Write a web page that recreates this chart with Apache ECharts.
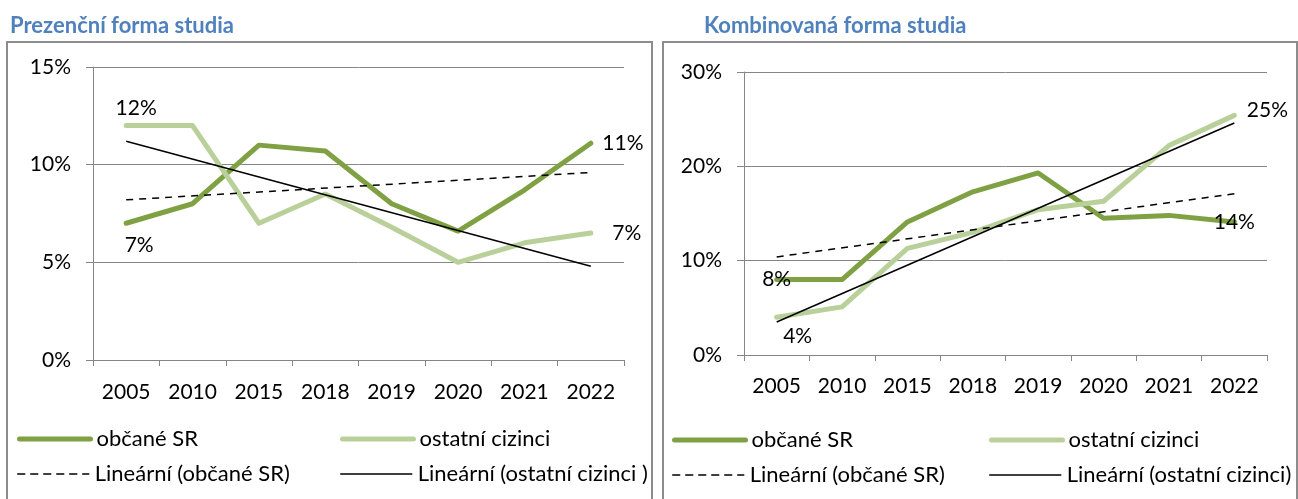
<!DOCTYPE html>
<html>
<head>
<meta charset="utf-8">
<script src="https://cdn.jsdelivr.net/npm/echarts@6/dist/echarts.min.js"></script>
<style>
  html, body { margin: 0; padding: 0; background: #fff; }
  #chart { width: 1298px; height: 499px; }
</style>
</head>
<body>
<div id="chart"></div>
<script>
// kategorie (roky)
var years = ['2005', '2010', '2015', '2018', '2019', '2020', '2021', '2022'];

// Prezenční forma studia (%)
var prezObcane = [7.0, 8.0, 11.0, 10.7, 8.0, 6.6, 8.7, 11.1];
var prezOstatni = [12.0, 12.0, 7.0, 8.5, 6.8, 5.0, 6.0, 6.5];
// lineární trend - jen koncové body
var prezTrendObcane = [8.2, null, null, null, null, null, null, 9.6];
var prezTrendOstatni = [11.2, null, null, null, null, null, null, 4.8];
var prezTicks = [0, 5, 10, 15];

// Kombinovaná forma studia (%)
var kombObcane = [8.0, 8.0, 14.1, 17.3, 19.3, 14.5, 14.8, 14.1];
var kombOstatni = [4.0, 5.1, 11.3, 13.0, 15.4, 16.3, 22.2, 25.4];
var kombTrendObcane = [10.4, null, null, null, null, null, null, 17.1];
var kombTrendOstatni = [3.5, null, null, null, null, null, null, 24.6];
var kombTicks = [0, 10, 20, 30];

var FONT = 'Lato';
var DARK = '#7FA144';
var LIGHT = '#B9D09A';
var GRAY = '#868686';

// popisky jen u vybraných bodů (bod s popiskem dostane malý symbol, jinak se popisek nevykreslí)
function withLabels(values, color, spec) {
  return values.map(function (v, i) {
    if (!spec[i]) return v;
    return {
      value: v,
      symbol: 'circle',
      symbolSize: 3,
      itemStyle: { color: color },
      label: Object.assign({
        show: true,
        color: '#000',
        fontFamily: FONT,
        fontSize: 21,
        formatter: function (p) { return Math.round(p.value) + '%'; }
      }, spec[i])
    };
  });
}

function yAxisFor(idx, ticks) {
  return {
    type: 'value',
    gridIndex: idx,
    min: ticks[0],
    max: ticks[ticks.length - 1],
    interval: ticks[1] - ticks[0],
    axisLine: { show: true, lineStyle: { color: GRAY, width: 1 } },
    axisTick: { show: true, length: 7, lineStyle: { color: GRAY } },
    splitLine: { show: true, lineStyle: { color: GRAY, width: 1 } },
    axisLabel: { margin: 22, color: '#000', fontFamily: FONT, fontSize: 21, formatter: '{value}%' }
  };
}

function xAxisFor(idx, margin) {
  return {
    type: 'category',
    gridIndex: idx,
    data: years,
    boundaryGap: true,
    axisLine: { show: true, lineStyle: { color: GRAY, width: 1 } },
    axisTick: { show: true, length: 6, lineStyle: { color: GRAY } },
    axisLabel: { margin: margin, interval: 0, color: '#000', fontFamily: FONT, fontSize: 21 }
  };
}

function dataLine(name, idx, data, color) {
  return {
    name: name, type: 'line', xAxisIndex: idx, yAxisIndex: idx,
    data: data, symbol: 'none', z: 2,
    emphasis: { disabled: true },
    lineStyle: { color: color, width: 5, cap: 'round', join: 'round' },
    itemStyle: { color: color }
  };
}

function trendLine(name, idx, data, dashed) {
  return {
    name: name, type: 'line', xAxisIndex: idx, yAxisIndex: idx,
    data: data, symbol: 'none', connectNulls: true, z: 3,
    emphasis: { disabled: true },
    lineStyle: { color: '#000', width: 1.5, type: dashed ? [7, 6] : 'solid' },
    itemStyle: { color: '#000' }
  };
}

// legenda: každá položka zvlášť, aby seděly sloupce jako v Excelu
function legendItem(name, left, top, lineWidth) {
  return {
    data: [name], left: left, top: top, padding: 0,
    itemWidth: 71, itemHeight: 14, itemGap: 0,
    selectedMode: false,
    lineStyle: { width: lineWidth, cap: 'round' },
    itemStyle: { opacity: 0 },   // bez kolečka uprostřed čáry
    textStyle: { color: '#000', fontFamily: FONT, fontSize: 22, padding: [0, 0, 0, 1] }
  };
}

var myChart = echarts.init(document.getElementById('chart'));

var option = {
  animation: false,
  title: [
    { text: 'Prezenční forma studia', left: 10, top: 15, padding: 0,
      textStyle: { color: '#4F81BD', fontFamily: FONT, fontWeight: 'bold', fontSize: 22 } },
    { text: 'Kombinovaná forma studia', left: 704, top: 15, padding: 0,
      textStyle: { color: '#4F81BD', fontFamily: FONT, fontWeight: 'bold', fontSize: 22 } }
  ],
  graphic: [
    { type: 'rect', shape: { x: 7, y: 42, width: 645, height: 480 },
      style: { fill: 'none', stroke: '#8C8C8C', lineWidth: 2 } },
    { type: 'rect', shape: { x: 663, y: 42, width: 634, height: 480 },
      style: { fill: 'none', stroke: '#8C8C8C', lineWidth: 2 } }
  ],
  grid: [
    { left: 93, top: 67, width: 531, height: 293 },
    { left: 744, top: 72, width: 523, height: 283 }
  ],
  legend: [
    legendItem('občané SR', 17, 428, 5),
    legendItem('ostatní cizinci', 340, 428, 5),
    legendItem('Lineární (občané SR)', 17, 463, 1.5),
    legendItem('Lineární (ostatní cizinci )', 340, 463, 1.5),
    legendItem('občané SR', 672, 429, 5),
    legendItem('ostatní cizinci', 989, 429, 5),
    legendItem('Lineární (občané SR)', 672, 464, 1.5),
    legendItem('Lineární (ostatní cizinci)', 989, 464, 1.5)
  ],
  xAxis: [xAxisFor(0, 22), xAxisFor(1, 21)],
  yAxis: [yAxisFor(0, prezTicks), yAxisFor(1, kombTicks)],
  series: [
    dataLine('občané SR', 0, withLabels(prezObcane, DARK, {
      0: { position: 'bottom', distance: 10, offset: [13, 0] },
      7: { position: 'right', distance: 10 }
    }), DARK),
    dataLine('ostatní cizinci', 0, withLabels(prezOstatni, LIGHT, {
      0: { position: 'top', distance: 5, offset: [10, 0] },
      7: { position: 'right', distance: 20 }
    }), LIGHT),
    trendLine('Lineární (občané SR)', 0, prezTrendObcane, true),
    trendLine('Lineární (ostatní cizinci )', 0, prezTrendOstatni, false),

    dataLine('občané SR', 1, withLabels(kombObcane, DARK, {
      0: { position: 'inside' },
      7: { position: 'inside' }
    }), DARK),
    dataLine('ostatní cizinci', 1, withLabels(kombOstatni, LIGHT, {
      0: { position: 'bottom', distance: 7, offset: [21, 0] },
      7: { position: 'right', distance: 11, offset: [0, -5] }
    }), LIGHT),
    trendLine('Lineární (občané SR)', 1, kombTrendObcane, true),
    trendLine('Lineární (ostatní cizinci)', 1, kombTrendOstatni, false)
  ]
};

myChart.setOption(option);
</script>
</body>
</html>
